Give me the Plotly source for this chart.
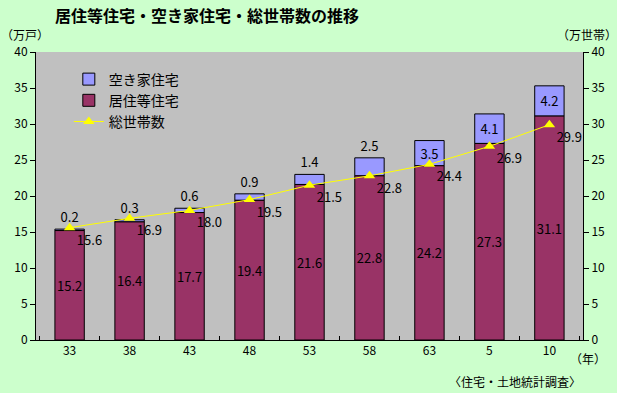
import plotly.graph_objects as go

categories = ["33", "38", "43", "48", "53", "58", "63", "5", "10"]
occupied = [15.2, 16.4, 17.7, 19.4, 21.6, 22.8, 24.2, 27.3, 31.1]
vacant = [0.2, 0.3, 0.6, 0.9, 1.4, 2.5, 3.5, 4.1, 4.2]
households = [15.6, 16.9, 18.0, 19.5, 21.5, 22.8, 24.4, 26.9, 29.9]
y_ticks = [0, 5, 10, 15, 20, 25, 30, 35, 40]

JP = "Noto Sans CJK JP, sans-serif"
BG = "#CCFFCC"

vacant_pos = ["outside" if v < 3 else "inside" for v in vacant]

fig = go.Figure()
fig.add_trace(go.Bar(
    x=categories, y=vacant, name="空き家住宅", offsetgroup="s", base=occupied,
    marker=dict(color="#9999FF", line=dict(color="black", width=1)),
    text=[f"{v:.1f}" for v in vacant], textposition=vacant_pos, textangle=0,
    insidetextanchor="middle", constraintext="none", cliponaxis=False,
    textfont=dict(color="black", size=13, family=JP),
))
fig.add_trace(go.Bar(
    x=categories, y=occupied, name="居住等住宅", offsetgroup="s",
    marker=dict(color="#993366", line=dict(color="black", width=1)),
    text=[f"{v:.1f}" for v in occupied], textposition="inside", textangle=0,
    insidetextanchor="middle", constraintext="none",
    textfont=dict(color="black", size=13, family=JP),
))
fig.add_trace(go.Scatter(
    x=categories, y=households, name="総世帯数", yaxis="y2",
    mode="lines+markers+text",
    line=dict(color="#FFFF00", width=1),
    marker=dict(symbol="triangle-up", size=10, color="#FFFF00"),
    text=[f"{v:.1f}" for v in households], textposition="bottom right",
    textfont=dict(color="black", size=13, family=JP),
))

axis_font = dict(family=JP, size=12, color="black")
fig.update_layout(
    width=617, height=393,
    margin=dict(l=36, r=30, t=52, b=53),
    paper_bgcolor=BG, plot_bgcolor="#C0C0C0",
    barmode="group", bargap=0.51,
    showlegend=True,
    legend=dict(x=0.06, y=0.96, xanchor="left", yanchor="top", traceorder="normal",
                bgcolor="rgba(0,0,0,0)", font=dict(family=JP, size=14, color="black"),
                itemwidth=30, tracegroupgap=0),
    title=dict(text="<b>居住等住宅・空き家住宅・総世帯数の推移</b>",
               x=55 / 617, xref="container", xanchor="left",
               y=1 - 16 / 393, yref="container", yanchor="middle",
               font=dict(family=JP, size=16, color="black")),
    xaxis=dict(type="category", showline=True, linecolor="black", linewidth=1,
               ticks="inside", tickson="boundaries", ticklen=4, tickcolor="black",
               tickfont=axis_font, showgrid=False, zeroline=False),
    yaxis=dict(range=[0, 40], tickvals=y_ticks, showline=True, linecolor="black",
               linewidth=1, ticks="outside", ticklen=5, tickcolor="black",
               tickfont=axis_font, showgrid=False, zeroline=False),
    yaxis2=dict(range=[0, 40], tickvals=y_ticks, overlaying="y", side="right",
                showline=True, linecolor="black", linewidth=1, ticks="outside",
                ticklen=5, tickcolor="black", tickfont=axis_font,
                showgrid=False, zeroline=False),
    font=dict(family=JP, color="black"),
)

ann_font = dict(family=JP, size=12, color="black")
fig.add_annotation(text="（万戸）", xref="paper", yref="paper", x=-0.067, y=1.06,
                   xanchor="left", yanchor="middle", showarrow=False, font=ann_font)
fig.add_annotation(text="（万世帯）", xref="paper", yref="paper", x=1.066, y=1.06,
                   xanchor="right", yanchor="middle", showarrow=False, font=ann_font)
fig.add_annotation(text="（年）", xref="paper", yref="paper", x=1.01, y=-0.065,
                   xanchor="center", yanchor="middle", showarrow=False, font=ann_font)
fig.add_annotation(text="〈住宅・土地統計調査〉", xref="paper", yref="paper", x=1.0, y=-0.145,
                   xanchor="right", yanchor="middle", showarrow=False, font=ann_font)

fig.write_html("out.html", config={"displayModeBar": False},
               post_script="document.body.style.margin='0';document.body.style.padding='0';document.body.style.overflow='hidden';")
